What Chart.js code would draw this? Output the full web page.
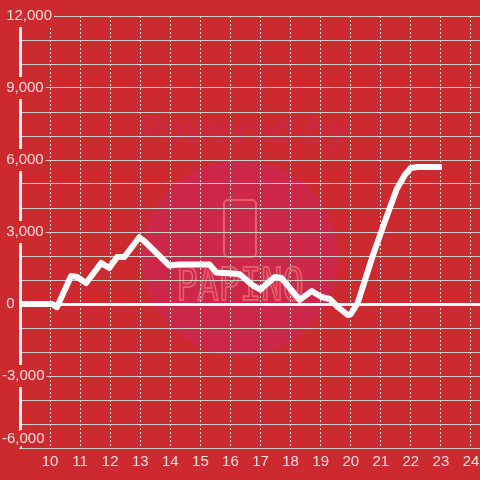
<!DOCTYPE html>
<html>
<head>
<meta charset="utf-8">
<script src="https://cdn.jsdelivr.net/npm/chart.js@4"></script>
<style>
    html, body { margin: 0; padding: 0; background: #cc2a2f; }
    #wrap { width: 480px; height: 480px; }
</style>
</head>
<body>
<div id="wrap"><canvas id="myChart" width="480" height="480"></canvas></div>
<script>
// hour of day and value
const hours = [
    9, 10.07, 10.23, 10.7, 10.9, 11.2, 11.7, 11.97, 12.23, 12.47, 12.97, 13.13,
    13.97, 14.3, 15.3, 15.53, 16.3, 16.73, 17.0, 17.47, 17.7, 18.3, 18.7, 19.03,
    19.3, 19.57, 19.9, 20.0, 20.23, 20.73, 21.13, 21.53, 21.8, 22.0, 22.23, 23.03,
];
const values = [
    0, 0, -130, 1170, 1125, 875, 1710, 1500, 1960, 1960, 2780, 2625,
    1600, 1650, 1650, 1310, 1250, 790, 600, 1125, 1080, 170, 540, 290,
    210, -125, -460, -420, 40, 2000, 3420, 4790, 5375, 5670, 5710, 5710,
];
const xTicks = [10, 11, 12, 13, 14, 15, 16, 17, 18, 19, 20, 21, 22, 23, 24];
const yMin = -6000;
const yMax = 12000;
const yLabelStep = 3000;

const bgColor = "#cc2a2f";

const background = {
    id: "background",
    beforeDraw(chart) {
        const ctx = chart.ctx;
        ctx.save();
        ctx.fillStyle = bgColor;
        ctx.fillRect(0, 0, chart.width, chart.height);

        // faint "Powered by PAPINO" watermark
        ctx.fillStyle = "rgba(205, 40, 80, 0.8)";
        ctx.beginPath();
        ctx.arc(240, 258, 98, 0, Math.PI * 2);
        ctx.fill();

        ctx.fillStyle = "rgba(205, 40, 80, 0.6)";
        ctx.font = "italic bold 38px 'Liberation Sans'";
        ctx.textAlign = "center";
        ctx.textBaseline = "middle";
        ctx.fillText("Powered by", 243, 133);

        ctx.strokeStyle = "rgba(232, 100, 112, 0.9)";
        ctx.lineWidth = 2;
        ctx.beginPath();
        ctx.roundRect(224, 200, 32, 57, 4);
        ctx.stroke();

        ctx.translate(240, 289);
        ctx.scale(0.8, 1);
        ctx.font = "44px 'DejaVu Sans Mono'";
        ctx.lineWidth = 2;
        ctx.strokeText("PAPINO", 0, 0);
        ctx.restore();
    },
};

// leading spaces nudge the labels to where the picture has them
function leading(value) {
    if (value < 0) {
        return 0;
    }
    return 1;
}

function yLabel(value) {
    if (value % yLabelStep !== 0) {
        return "";
    }
    const text = " ".repeat(leading(value)) + value.toLocaleString("en-US");
    if (value === yMin) {
        // lift the bottom label so it stays inside the plot
        return [text, ""];
    }
    return text;
}

function isLabelled(c) {
    return c.tick && c.tick.value % yLabelStep === 0;
}

function isBottom(c) {
    return c.tick && c.tick.value === yMin;
}

function main() {
    const ctx = document.getElementById("myChart");
    const points = hours.map((h, i) => ({ x: h, y: values[i] }));

    new Chart(ctx, {
        type: "line",
        data: {
            datasets: [
                {
                    data: points,
                    borderColor: "#ffffff",
                    borderWidth: 6,
                    borderJoinStyle: "round",
                    pointRadius: 0,
                    tension: 0,
                },
            ],
        },
        options: {
            responsive: false,
            animation: false,
            layout: { padding: { top: 16, left: 0, right: 0, bottom: 0 } },
            plugins: {
                legend: { display: false },
                tooltip: { enabled: false },
            },
            scales: {
                x: {
                    type: "linear",
                    min: 9,
                    max: 24.3,
                    afterBuildTicks: (scale) => {
                        scale.ticks = xTicks.map((v) => ({ value: v }));
                    },
                    afterFit: (scale) => {
                        scale.height = 32;
                        scale.paddingLeft = 0;
                        scale.paddingRight = 0;
                    },
                    border: { display: false, dash: [2, 2] },
                    grid: {
                        color: "#e2e2e2",
                        lineWidth: 1,
                        drawTicks: false,
                    },
                    ticks: {
                        color: "#f6dede",
                        font: { family: "'Liberation Sans'", size: 15 },
                        padding: 5,
                        maxRotation: 0,
                        autoSkip: false,
                    },
                },
                y: {
                    type: "linear",
                    min: yMin,
                    max: yMax,
                    afterFit: (scale) => {
                        scale.width = 20;
                        scale.paddingTop = 0;
                        scale.paddingBottom = 0;
                    },
                    border: { display: true, color: "#f4f4f4", width: 3 },
                    grid: {
                        color: (c) => (c.tick && c.tick.value === 0 ? "#ffffff" : "#cfcfcf"),
                        lineWidth: (c) => (c.tick && c.tick.value === 0 ? 3 : 1),
                        drawTicks: false,
                    },
                    ticks: {
                        stepSize: 1000,
                        autoSkip: false,
                        mirror: true,
                        padding: -18,
                        color: "#f6dede",
                        font: { family: "'Liberation Sans'", size: 15 },
                        showLabelBackdrop: (c) => isLabelled(c) && !isBottom(c),
                        backdropColor: bgColor,
                        backdropPadding: 2,
                        textStrokeColor: bgColor,
                        textStrokeWidth: (c) => (isBottom(c) ? 7 : 0),
                        callback: yLabel,
                    },
                },
            },
        },
        plugins: [background],
    });
}

main();
</script>
</body>
</html>
